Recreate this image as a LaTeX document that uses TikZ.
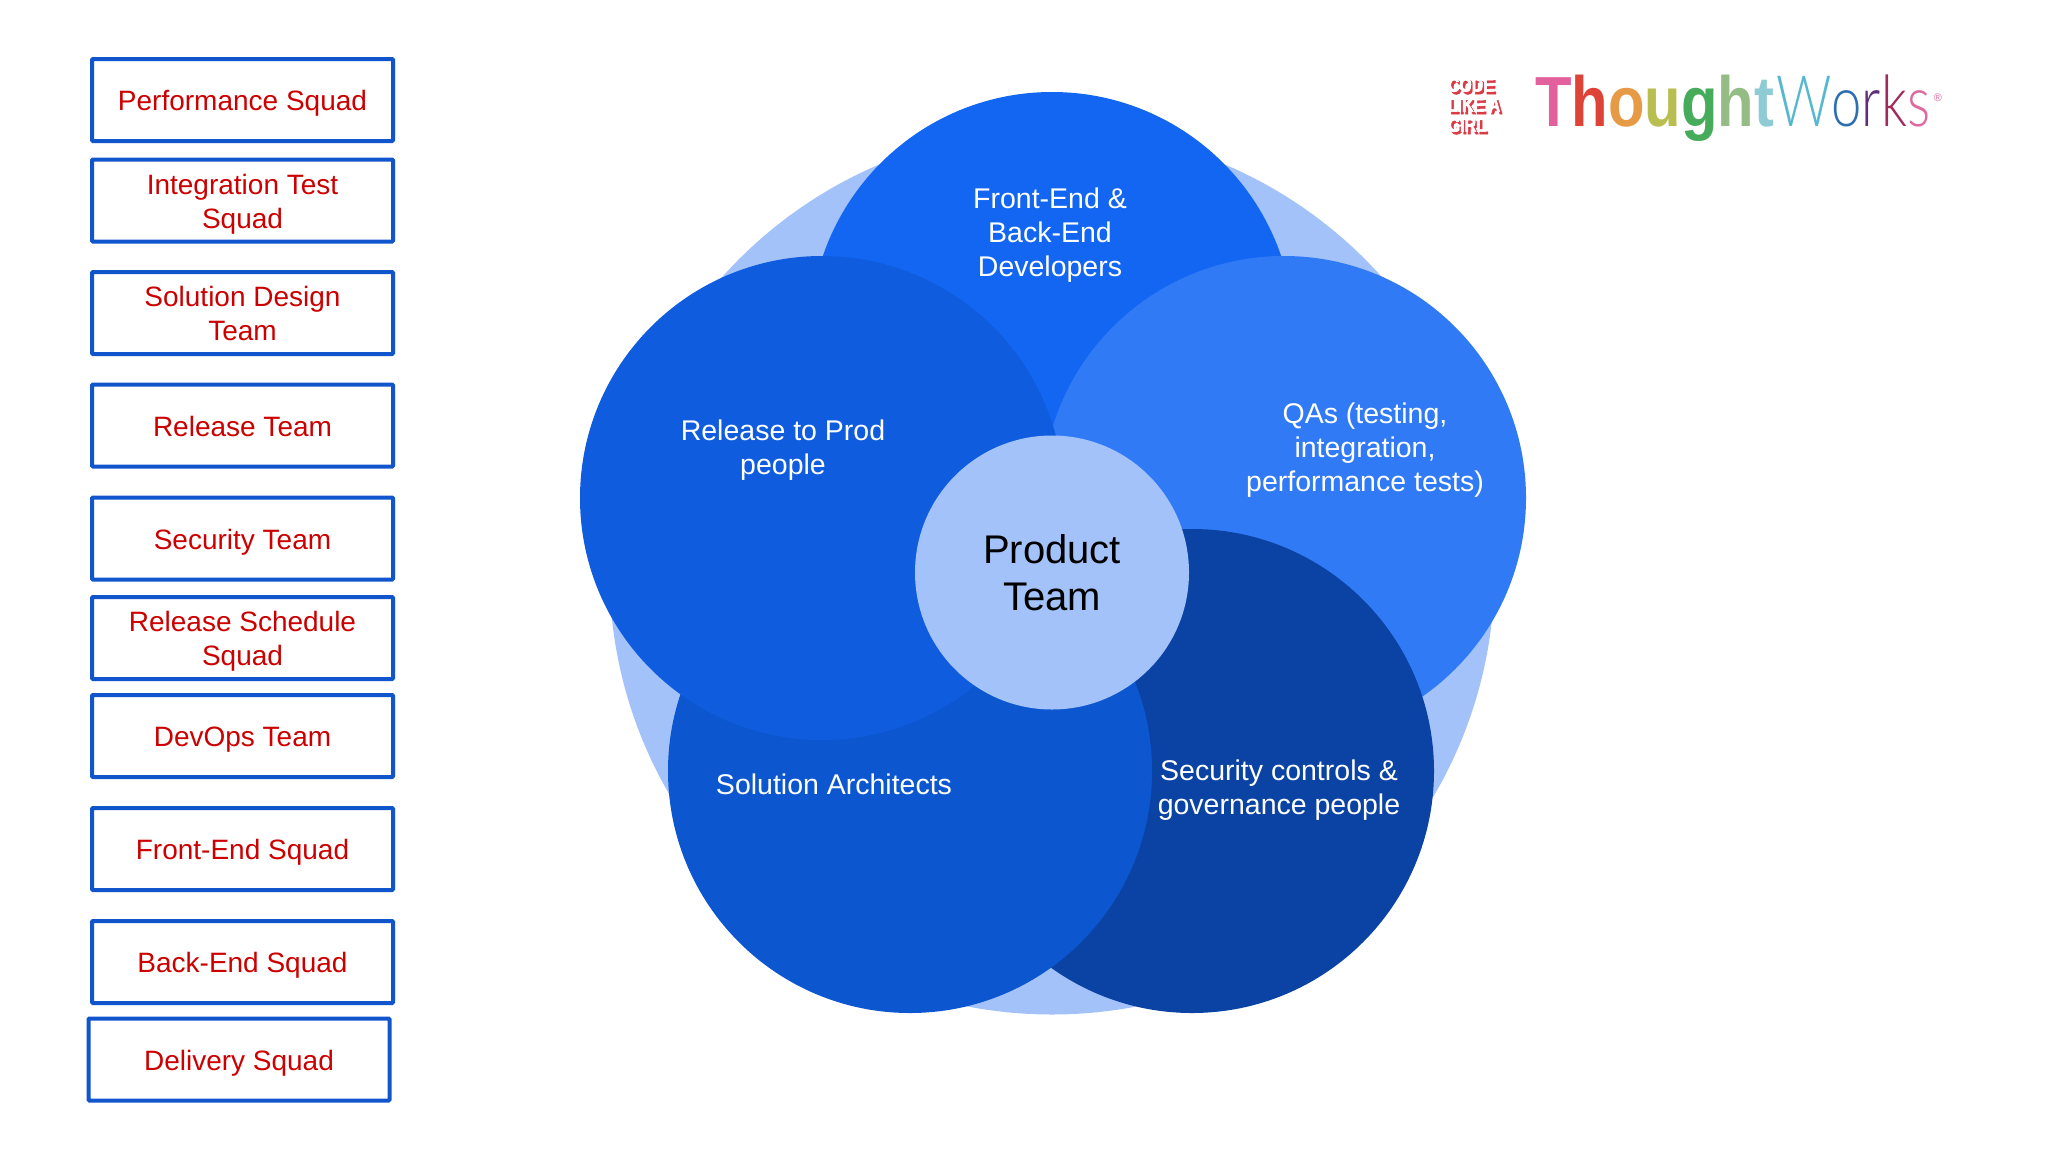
\documentclass[tikz,border=0pt]{standalone}
\usepackage{fontspec}
\setmainfont{Liberation Sans}
\newfontfamily\lightf{Lato Light}
\newfontfamily\boldf{Liberation Sans Bold}
\definecolor{boxline}{HTML}{1155CC}
\definecolor{boxtext}{HTML}{CC0000}
\definecolor{cpale}{HTML}{A3C2F9}
\definecolor{ctop}{HTML}{1266F1}
\definecolor{crel}{HTML}{0F5CDF}
\definecolor{cqa}{HTML}{317AF5}
\definecolor{csec}{HTML}{0A43A3}
\definecolor{csol}{HTML}{0C57CF}
\definecolor{stickred}{HTML}{DB3A45}
\definecolor{lgA}{HTML}{E2609C}
\definecolor{lgB}{HTML}{DE4337}
\definecolor{lgC}{HTML}{E79A45}
\definecolor{lgD}{HTML}{B8BE50}
\definecolor{lgE}{HTML}{46AB5B}
\definecolor{lgF}{HTML}{95BC85}
\definecolor{lgG}{HTML}{8FCBD5}
\definecolor{lgH}{HTML}{55B8CF}
\definecolor{lgI}{HTML}{2B6FB0}
\definecolor{lgJ}{HTML}{5B2D7A}
\definecolor{lgK}{HTML}{A32A5C}
\definecolor{lgL}{HTML}{DF689F}
\newcommand{\sta}{\rule[-7pt]{0pt}{35pt}}
\newcommand{\st}{\rule[-7pt]{0pt}{27pt}}
\tikzset{
  squad/.style={draw=boxline,line width=4pt,rounded corners=1pt,fill=white,text=boxtext,
    minimum width=301pt,minimum height=82pt,inner sep=0pt,align=center,
    font=\fontsize{28}{34}\selectfont},
  petal/.style={circle,minimum size=484pt,inner sep=0pt,draw=none},
  petaltext/.style={text=white,align=center,inner sep=0pt,font=\fontsize{28.5}{34}\selectfont},
  logoletter/.style={inner sep=0pt,anchor=base west},
  stickertext/.style={inner sep=0pt,align=left,anchor=north west,font=\boldf\addfontfeature{FakeBold=3}\fontsize{20}{20}\selectfont}
}
\newcommand{\stickerwords}{\scalebox{.8}[1]{CODE}\\\scalebox{.8}[1]{LIKE A}\\\scalebox{.8}[1]{GIRL}}
\begin{document}
\begin{tikzpicture}[x=1pt,y=-1pt]
\useasboundingbox (0,0) rectangle (2048,1152);
\fill[white] (0,0) rectangle (2048,1152);
% squads
\node[squad] (s1) at (242.5,100) {\sta Performance Squad};
\node[squad] (s2) at (242.5,200.5) {\sta Integration Test\\\st Squad};
\node[squad] (s3) at (242.5,313) {\sta Solution Design\\\st Team};
\node[squad] (s4) at (242.5,425.5) {\sta Release Team};
\node[squad] (s5) at (242.5,538.5) {\sta Security Team};
\node[squad] (s6) at (242.5,638) {\sta Release Schedule\\\st Squad};
\node[squad] (s7) at (242.5,736) {\sta DevOps Team};
\node[squad] (s8) at (242.5,849) {\sta Front-End Squad};
\node[squad] (s9) at (242.5,962) {\sta Back-End Squad};
\node[squad] (s10) at (239,1059.5) {\sta Delivery Squad};
% petals
\node[circle,fill=cpale,minimum size=885pt,inner sep=0pt] (bg) at (1052,572) {};
\node[petal,fill=ctop] (top) at (1052,334) {};
\node[petal,fill=cqa] (qa) at (1284,498) {};
\node[petal,fill=csec] (sec) at (1192,771) {};
\node[petal,fill=csol] (sol) at (910,771) {};
\node[petal,fill=crel] (rel) at (822,498) {};
\node[circle,fill=cpale,minimum size=274pt,inner sep=0pt,align=center,
  font=\fontsize{40}{47}\selectfont,text=black] (prod) at (1052,572.5) {Product\\Team};
\node[petaltext] (t1) at (1050,235.5) {Front-End \&\\Back-End\\Developers};
\node[petaltext] (t2) at (783,450.5) {Release to Prod\\people};
\node[petaltext] (t3) at (1365,450.5) {QAs (testing,\\integration,\\performance tests)};
\node[petaltext] (t4) at (834,784) {Solution Architects};
\node[petaltext] (t5) at (1279,790.5) {Security controls \&\\governance people};
% logo
\node[logoletter,font=\boldf\fontsize{71}{71}\selectfont] (logoA) at (1535,126)
 {\resizebox{239pt}{\height}{\textcolor{lgA}{T}\textcolor{lgB}{h}\textcolor{lgC}{o}\textcolor{lgD}{u}\textcolor{lgE}{g}\textcolor{lgF}{h}\textcolor{lgG}{t}}};
\node[logoletter,font=\lightf\fontsize{71}{71}\selectfont] (logoB) at (1776,126)
 {\resizebox{154pt}{\height}{\textcolor{lgH}{W}\textcolor{lgI}{o}\textcolor{lgJ}{r}\textcolor{lgK}{k}\textcolor{lgL}{s}}};
\node[inner sep=0pt,font=\fontsize{11}{11}\selectfont,text=lgL] (logoR) at (1938,98) {®};
% sticker
\node[stickertext,text=stickred] (stickB) at (1450,80) {\stickerwords};
\node[stickertext,text=white] (stickA) at (1447.5,77.5) {\stickerwords};
\end{tikzpicture}
\end{document}
